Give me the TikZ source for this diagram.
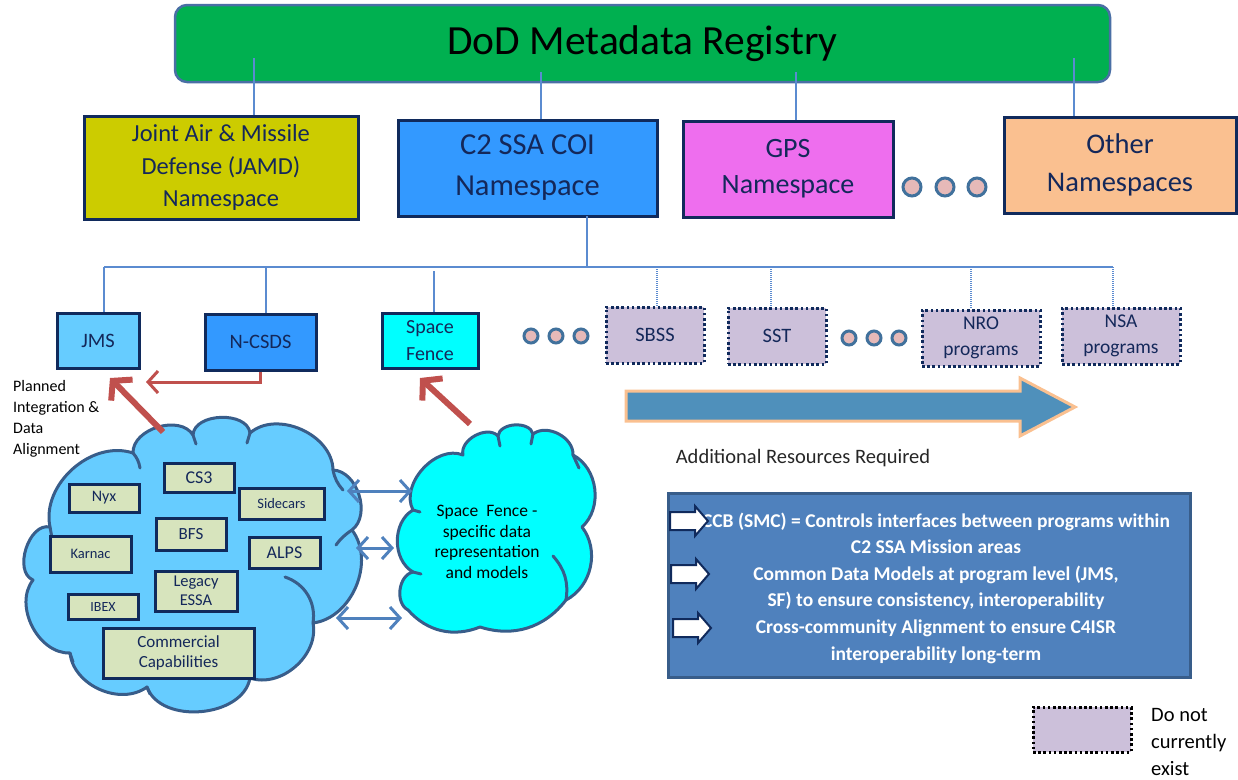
\documentclass[tikz,border=0pt]{standalone}
\usepackage{fontspec}
\setmainfont{Carlito}
\usetikzlibrary{arrows.meta}
\definecolor{reggreen}{HTML}{00B050}
\definecolor{regborder}{HTML}{4A6FA5}
\definecolor{navy}{HTML}{102A5C}
\definecolor{navytext}{HTML}{14285A}
\definecolor{jamdfill}{HTML}{CCCC00}
\definecolor{c2fill}{HTML}{3399FF}
\definecolor{gpsfill}{HTML}{EE6EEE}
\definecolor{otherfill}{HTML}{FAC090}
\definecolor{jmsfill}{HTML}{66CCFF}
\definecolor{sffill}{HTML}{00FFFF}
\definecolor{lilac}{HTML}{CCC0DA}
\definecolor{sagefill}{HTML}{D7E4BD}
\definecolor{cloudborder}{HTML}{385D8A}
\definecolor{boxblue}{HTML}{4F81BD}
\definecolor{bigarrow}{HTML}{4F90BB}
\definecolor{treeblue}{HTML}{5B8BD0}
\definecolor{redarrow}{HTML}{C0504D}
\definecolor{dotpink}{HTML}{E6B9B8}
\definecolor{dotborder}{HTML}{41719C}
\begin{document}
\begin{tikzpicture}[x=1pt,y=-1pt,
  box/.style={draw=navy, line width=3pt, inner sep=0pt, align=center, text=navytext},
  nsbox/.style={box},
  smallbox/.style={box, font=\fontsize{20.5}{26}\selectfont},
  dotbox/.style={draw=navy, line width=3pt, dash pattern=on 2.6pt off 2.6pt, fill=lilac,
     inner sep=0pt, align=center, text=navytext, font=\fontsize{20.5}{26}\selectfont},
  sagebox/.style={box, fill=sagefill},
  treeline/.style={draw=treeblue, line width=1.1pt},
  treedot/.style={draw=treeblue, line width=1.1pt, dash pattern=on 1pt off 1pt},
  ooo/.style={circle, draw=dotborder, fill=dotpink, line width=3pt, inner sep=0pt},
  cloudA/.style={draw=cloudborder, line width=3pt, line join=round},
  tail/.style={draw=cloudborder, line width=3pt, line cap=round},
  dbl/.style={draw=boxblue, line width=3pt, {Straight Barb[length=10pt,width=22pt]}-{Straight Barb[length=10pt,width=22pt]}},
  redthin/.style={draw=redarrow, line width=3pt, -{Straight Barb[length=10pt,width=22pt]}},
  redthick/.style={draw=redarrow, line width=6pt, -{Straight Barb[length=13pt,width=30pt]}},
  wharrow/.style={draw=navy, fill=white, line width=2pt, line join=miter}
]
\useasboundingbox (0,0) rectangle (1238,779);

% ---------- registry ----------
\node[draw=regborder, line width=2.5pt, fill=reggreen, rounded corners=12pt,
  minimum width=935pt, minimum height=77pt, inner sep=0pt,
  font=\fontsize{41.5}{49}\selectfont] (reg) at (642.5,43.5) {DoD Metadata Registry};

% ---------- namespaces ----------
\node[nsbox, fill=jamdfill, minimum width=274pt, minimum height=103pt,
  font=\fontsize{24.5}{32.5}\selectfont] (jamd) at (221,167.5) {Joint Air \& Missile\\Defense (JAMD)\\Namespace};
\node[nsbox, fill=c2fill, minimum width=259pt, minimum height=96pt,
  font=\fontsize{30.5}{41}\selectfont] (c2) at (527.5,168) {C2 SSA COI\\Namespace};
\node[nsbox, fill=gpsfill, minimum width=210pt, minimum height=96pt,
  font=\fontsize{28}{36}\selectfont] (gps) at (788,169) {GPS\\Namespace};
\node[nsbox, fill=otherfill, minimum width=232pt, minimum height=96pt,
  font=\fontsize{28.5}{38}\selectfont] (other) at (1120,165) {Other\\Namespaces};
\node[ooo, minimum size=18pt] (o1) at (912,187) {};
\node[ooo, minimum size=18pt] (o2) at (945,187) {};
\node[ooo, minimum size=18pt] (o3) at (977,187) {};

\coordinate (r1) at (254,58);
\coordinate (r2) at (541,72);
\coordinate (r3) at (796,72);
\coordinate (r4) at (1074,58);
\draw[treeline] (r1) -- (r1 |- jamd.north);
\draw[treeline] (r2) -- (r2 |- c2.north);
\draw[treeline] (r3) -- (r3 |- gps.north);
\draw[treeline] (r4) -- (r4 |- other.north);

% ---------- programs ----------
\node[smallbox, fill=jmsfill, minimum width=82pt, minimum height=55pt] (jms) at (98,340.5) {JMS};
\node[smallbox, fill=c2fill, minimum width=111pt, minimum height=56pt] (ncsds) at (260.5,342) {N-CSDS};
\node[smallbox, fill=sffill, minimum width=96pt, minimum height=55pt,
  font=\fontsize{20}{27}\selectfont] (sf) at (430,340.5) {Space\\Fence};
\node[ooo, minimum size=14pt] (m1) at (531,336) {};
\node[ooo, minimum size=14pt] (m2) at (556,336) {};
\node[ooo, minimum size=14pt] (m3) at (581,336) {};
\node[dotbox, minimum width=98pt, minimum height=56pt] (sbss) at (655,335) {SBSS};
\node[dotbox, minimum width=98pt, minimum height=56pt] (sst) at (777,336) {SST};
\node[ooo, minimum size=14pt] (n1) at (849,338) {};
\node[ooo, minimum size=14pt] (n2) at (874,338) {};
\node[ooo, minimum size=14pt] (n3) at (899,338) {};
\node[dotbox, minimum width=118pt, minimum height=56pt,
  font=\fontsize{19.5}{26}\selectfont] (nro) at (981,338) {NRO\\programs};
\node[dotbox, minimum width=118pt, minimum height=56pt,
  font=\fontsize{19.5}{26}\selectfont] (nsa) at (1121,336) {NSA\\programs};

% tree below C2
\coordinate (c2b) at (587,216);
\coordinate (busL) at (104,267);
\coordinate (busR) at (1113,267);
\draw[treeline] (c2b) -- (c2b |- busL);
\draw[treeline] (busL) -- (busR);
\coordinate (t1) at (104,267);
\coordinate (t2) at (266,267);
\coordinate (t3) at (434,271);
\coordinate (t4) at (657,267);
\coordinate (t5) at (771,267);
\coordinate (t6) at (971,267);
\coordinate (t7) at (1113,267);
\draw[treeline] (t1) -- (t1 |- jms.north);
\draw[treeline] (t2) -- (t2 |- ncsds.north);
\draw[treeline] (t3) -- (t3 |- sf.north);
\draw[treedot] (t4) -- (t4 |- sbss.north);
\draw[treedot] (t5) -- (t5 |- sst.north);
\draw[treedot] (t6) -- (t6 |- nro.north);
\draw[treedot] (t7) -- (t7 |- nsa.north);

% ---------- big cloud ----------
\draw[cloudA, fill=jmsfill] (133,453) to[bend left=75] (193,435) to[bend left=85] (250,433)
  to[bend left=65] (333,470) to[bend left=70] (352,530) to[bend left=60] (313,623)
  to[bend left=60] (250,678) to[bend left=75] (147,687) to[bend left=60] (70,653)
  to[bend left=65] (33,580) to[bend left=85] (50,527) to[bend left=60] (133,453) -- cycle;
\draw[tail] (285,577) to[bend left=40] (313,623);
\draw[tail] (133,453) to[bend left=15] (140,468);
\draw[tail] (193,435) -- (196,444);
\draw[tail] (250,433) -- (247,443);
\draw[tail] (333,470) to[bend right=15] (343,490);
\draw[tail] (352,530) to[bend right=10] (336,545);
\draw[tail] (70,653) -- (73,662);
\draw[tail] (50,527) -- (52,538);
\draw[tail] (147,687) -- (150,694);

\node[sagebox, minimum width=70pt, minimum height=29pt, font=\fontsize{18}{20}\selectfont] (cs3) at (199,477.5) {CS3};
\node[sagebox, minimum width=70pt, minimum height=28pt, font=\fontsize{16}{18}\selectfont] (nyx) at (104,498) {Nyx};
\node[sagebox, minimum width=85pt, minimum height=31pt, font=\fontsize{14.5}{16}\selectfont] (side) at (281.5,503.5) {Sidecars};
\node[sagebox, minimum width=70pt, minimum height=32pt, font=\fontsize{17}{19}\selectfont] (bfs) at (191,534) {BFS};
\node[sagebox, minimum width=81pt, minimum height=36pt, font=\fontsize{14.5}{16}\selectfont] (karnac) at (90.5,554) {Karnac};
\node[sagebox, minimum width=71pt, minimum height=31pt, font=\fontsize{18}{20}\selectfont] (alps) at (284.5,552.5) {ALPS};
\node[sagebox, minimum width=82pt, minimum height=40pt, font=\fontsize{16.5}{18.5}\selectfont] (legacy) at (196,591) {Legacy\\ESSA};
\node[sagebox, minimum width=70pt, minimum height=25pt, font=\fontsize{14}{16}\selectfont] (ibex) at (103,606.5) {IBEX};
\node[sagebox, minimum width=151pt, minimum height=50pt, font=\fontsize{17}{20.5}\selectfont] (comm) at (178.5,653) {Commercial\\Capabilities};

% ---------- space fence cloud ----------
\draw[cloudA, fill=sffill] (463,455) to[bend left=75] (498,436) to[bend left=80] (533,434)
  to[bend left=65] (573,455) to[bend left=55] (582,527) to[bend left=50] (566,600)
  to[bend left=35] (480,627) to[bend left=35] (408,610) to[bend left=70] (413,572)
  to[bend left=60] (413,510) to[bend left=70] (463,455) -- cycle;
\draw[tail] (553,556) to[bend left=25] (566,600);
\draw[tail] (498,436) -- (500,446);
\draw[tail] (533,434) -- (531,444);
\draw[tail] (573,455) -- (579,468);
\draw[tail] (413,510) -- (420,512);
\draw[tail] (413,572) -- (421,574);
\node[align=center, font=\fontsize{17.5}{20.5}\selectfont, text=black] (sftext) at (487,542)
  {Space\ \ Fence -\\specific data\\representation\\and models};

% double arrows between clouds
\coordinate (d1a) at (347,491); \coordinate (d1b) at (412,491);
\coordinate (d2a) at (356,548); \coordinate (d2b) at (394,548);
\coordinate (d3a) at (336,618); \coordinate (d3b) at (402,618);
\draw[dbl] (d1a) -- (d1b);
\draw[dbl] (d2a) -- (d2b);
\draw[dbl] (d3a) -- (d3b);

% ---------- red arrows ----------
\coordinate (jmsin) at (146,382);
\draw[redthin] (ncsds.south) -- (ncsds.south |- jmsin) -- (jmsin);
\coordinate (ra1) at (163,432); \coordinate (ra2) at (110,378);
\draw[redthick] (ra1) -- (ra2);
\coordinate (rb1) at (470,424); \coordinate (rb2) at (420,378);
\draw[redthick] (rb1) -- (rb2);

\node[align=left, anchor=north west, font=\fontsize{16}{21}\selectfont, inner sep=0pt] (planned) at (13,380)
  {Planned\\Integration \&\\Data\\Alignment};

% ---------- big arrow ----------
\draw[fill=bigarrow, draw=otherfill, line width=3pt, line join=miter]
  (626,391) -- (1020,391) -- (1020,378) -- (1075,407) -- (1020,436) -- (1020,421) -- (626,421) -- cycle;
\node[font=\fontsize{20.5}{24}\selectfont, text=black!85] (addl) at (803,458) {Additional Resources Required};

% ---------- info box ----------
\node[fill=boxblue, draw=cloudborder, line width=3pt, minimum width=522pt, minimum height=184pt, inner sep=0pt] (info) at (929,585) {};
\node[align=center, text=white, font=\bfseries\fontsize{19.5}{26.6}\selectfont] (infotext) at (936,588)
  {CCB (SMC) = Controls interfaces between programs within\\
   C2 SSA Mission areas\\
   Common Data Models at program level (JMS,\\
   SF) to ensure consistency, interoperability\\
   Cross-community Alignment to ensure C4ISR\\
   interoperability long-term};
\foreach \c/\x in {521/670, 574/671, 628/673}{
  \draw[wharrow] (\x,\c-9) -- (\x+25,\c-9) -- (\x+25,\c-15) -- (\x+38,\c) -- (\x+25,\c+15) -- (\x+25,\c+9) -- (\x,\c+9) -- cycle;
}

% ---------- legend ----------
\node[dotbox, draw=black, minimum width=98pt, minimum height=45pt] (leg) at (1082,729.5) {};
\node[align=left, anchor=west, font=\fontsize{20.5}{27}\selectfont, inner sep=0pt] (legtext) at (1151,742) {Do not\\currently\\exist};
\end{tikzpicture}
\end{document}
